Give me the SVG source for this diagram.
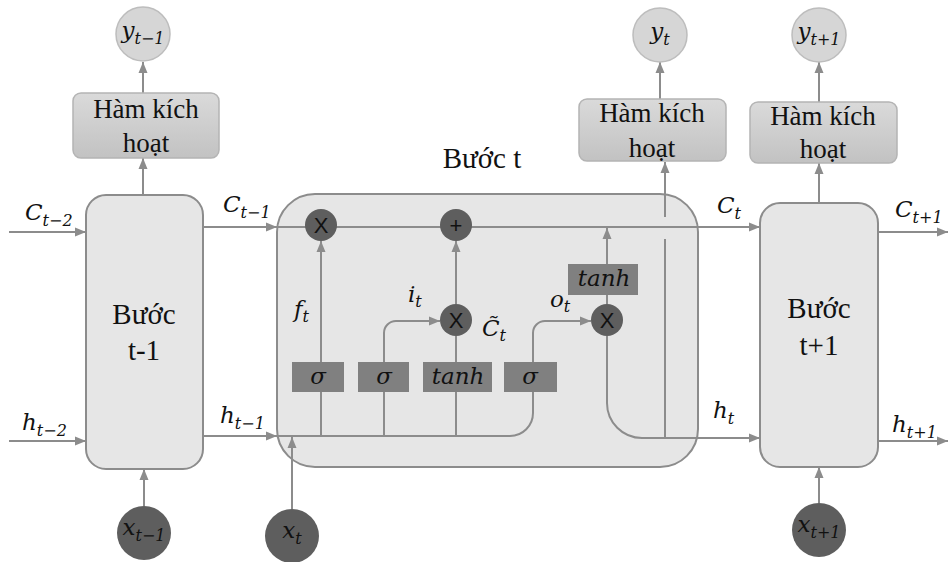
<svg xmlns="http://www.w3.org/2000/svg" width="948" height="562" viewBox="0 0 948 562">
<defs>
<marker id="arr" markerUnits="userSpaceOnUse" markerWidth="12" markerHeight="10" refX="11" refY="5" orient="auto">
<path d="M0,0.5 L11,5 L0,9.5 z" fill="#8c8c8c"/>
</marker>
<linearGradient id="gAct" x1="0" y1="0" x2="0" y2="1">
<stop offset="0" stop-color="#dadada"/>
<stop offset="1" stop-color="#c2c2c2"/>
</linearGradient>
<style>
.cell{fill:#e6e6e6;stroke:#8c8c8c;stroke-width:2}
.act{fill:url(#gAct);stroke:#b4b4b4;stroke-width:1.5}
.out{fill:#d6d6d6;stroke:#bdbdbd;stroke-width:1.5}
.inp{fill:#5e5e5e}
.op{fill:#5e5e5e}
.gate{fill:#808080}
.ln{fill:none;stroke:#8c8c8c;stroke-width:2}
.ar{marker-end:url(#arr)}
.tm{font-family:"Liberation Serif","Times New Roman",serif;fill:#111;text-anchor:middle}
.m{font-family:"DejaVu Serif",serif;font-style:italic;fill:#111;font-size:23px}
.s{font-size:16px}
.opt{font-family:"Liberation Sans",Arial,sans-serif;fill:#111;font-size:22px;text-anchor:middle}
</style>
</defs>

<g id="cell-t">
<rect class="cell" x="277" y="194" width="421" height="273" rx="38"/>
<text class="tm" x="482" y="168" font-size="29">Bước t</text>
</g>

<g id="connectors">
<path class="ln ar" d="M9,232 H86"/>
<path class="ln ar" d="M9,441 H86"/>
<path class="ln ar" d="M143,195 V158"/>
<path class="ln ar" d="M143,93 V62"/>
<path class="ln ar" d="M144,506 V469"/>
<path class="ln ar" d="M203,227 H277"/>
<path class="ln ar" d="M203,436 H277"/>
<path class="ln ar" d="M292,509 V437"/>
<path class="ln ar" d="M277,227 H760"/>
<path class="ln" d="M277,436 H510 A23,23 0 0 0 533,413 V392"/>
<path class="ln" d="M321,436 V392"/>
<path class="ln" d="M384,436 V392"/>
<path class="ln" d="M456,436 V392"/>
<path class="ln ar" d="M321,362 V241"/>
<path class="ln ar" d="M384,362 V333 A12,12 0 0 1 396,321 H440"/>
<path class="ln" d="M456,362 V336"/>
<path class="ln ar" d="M456,304 V241"/>
<path class="ln ar" d="M533,362 V333 A12,12 0 0 1 545,321 H591"/>
<path class="ln" d="M607,304 V295"/>
<path class="ln ar" d="M607,264 V228"/>
<path class="ln ar" d="M607,336 V403 A35,35 0 0 0 642,438 H760"/>
<path class="ln" d="M665,438 V239"/>
<path class="ln ar" d="M665,217 V162"/>
<path class="ln ar" d="M660,99 V62"/>
<path class="ln ar" d="M819,203 V163"/>
<path class="ln ar" d="M819,102 V62"/>
<path class="ln ar" d="M819,503 V467"/>
<path class="ln ar" d="M878,232 H948"/>
<path class="ln ar" d="M878,441 H948"/>
</g>

<g id="cell-t-1">
<rect class="cell" x="86" y="195" width="117" height="274" rx="20"/>
<text class="tm" x="144" y="324" font-size="29">Bước</text>
<text class="tm" x="144" y="360" font-size="29">t-1</text>
</g>
<g id="cell-t+1">
<rect class="cell" x="760" y="203" width="118" height="264" rx="20"/>
<text class="tm" x="819" y="318" font-size="29">Bước</text>
<text class="tm" x="819" y="355" font-size="29">t+1</text>
</g>

<g id="act-t-1">
<rect class="act" x="73" y="93" width="146" height="65" rx="8"/>
<text class="tm" x="146" y="118" font-size="27">Hàm kích</text>
<text class="tm" x="146" y="152" font-size="27">hoạt</text>
</g>
<g id="act-t">
<rect class="act" x="579" y="99" width="147" height="62" rx="8"/>
<text class="tm" x="652" y="122" font-size="27">Hàm kích</text>
<text class="tm" x="652" y="157" font-size="27">hoạt</text>
</g>
<g id="act-t+1">
<rect class="act" x="750" y="102" width="147" height="61" rx="8"/>
<text class="tm" x="823" y="125" font-size="27">Hàm kích</text>
<text class="tm" x="823" y="158" font-size="27">hoạt</text>
</g>

<g id="y-t-1">
<circle class="out" cx="143" cy="34" r="27"/>
<text class="m" x="143" y="38" text-anchor="middle">y<tspan class="s" dy="6">t−1</tspan></text>
</g>
<g id="y-t">
<circle class="out" cx="660" cy="35" r="27"/>
<text class="m" x="660" y="39" text-anchor="middle">y<tspan class="s" dy="6">t</tspan></text>
</g>
<g id="y-t+1">
<circle class="out" cx="819" cy="35" r="27"/>
<text class="m" x="819" y="39" text-anchor="middle">y<tspan class="s" dy="6">t+1</tspan></text>
</g>

<g id="x-t-1">
<circle class="inp" cx="144" cy="533" r="27"/>
<text class="m" x="144" y="535" text-anchor="middle">x<tspan class="s" dy="6">t−1</tspan></text>
</g>
<g id="x-t">
<circle class="inp" cx="292" cy="536" r="27"/>
<text class="m" x="292" y="538" text-anchor="middle">x<tspan class="s" dy="6">t</tspan></text>
</g>
<g id="x-t+1">
<circle class="inp" cx="819" cy="530" r="27"/>
<text class="m" x="819" y="532" text-anchor="middle">x<tspan class="s" dy="6">t+1</tspan></text>
</g>

<g id="mul-f">
<circle class="op" cx="321" cy="225" r="16"/>
<text class="opt" x="321" y="233">X</text>
</g>
<g id="add-c">
<circle class="op" cx="456" cy="225" r="16"/>
<text class="opt" x="456" y="233">+</text>
</g>
<g id="mul-i">
<circle class="op" cx="456" cy="320" r="16"/>
<text class="opt" x="456" y="328">X</text>
</g>
<g id="mul-o">
<circle class="op" cx="607" cy="320" r="16"/>
<text class="opt" x="607" y="328">X</text>
</g>

<g id="sig-f">
<rect class="gate" x="292" y="362" width="52" height="30"/>
<text class="m" x="318" y="384" text-anchor="middle">σ</text>
</g>
<g id="sig-i">
<rect class="gate" x="358" y="362" width="51" height="30"/>
<text class="m" x="384" y="384" text-anchor="middle">σ</text>
</g>
<g id="tanh-c">
<rect class="gate" x="423" y="362" width="69" height="30"/>
<text class="m" x="458" y="384" text-anchor="middle" font-size="21">tanh</text>
</g>
<g id="sig-o">
<rect class="gate" x="504" y="362" width="53" height="30"/>
<text class="m" x="530" y="384" text-anchor="middle">σ</text>
</g>
<g id="tanh-h">
<rect class="gate" x="568" y="264" width="70" height="31"/>
<text class="m" x="604" y="286" text-anchor="middle" font-size="21">tanh</text>
</g>

<g id="labels">
<text class="m" x="25" y="220">C<tspan class="s" dy="6">t−2</tspan></text>
<text class="m" x="223" y="212">C<tspan class="s" dy="6">t−1</tspan></text>
<text class="m" x="22" y="430">h<tspan class="s" dy="6">t−2</tspan></text>
<text class="m" x="220" y="423">h<tspan class="s" dy="6">t−1</tspan></text>
<text class="m" x="717" y="213">C<tspan class="s" dy="6">t</tspan></text>
<text class="m" x="713" y="418">h<tspan class="s" dy="6">t</tspan></text>
<text class="m" x="895" y="217">C<tspan class="s" dy="6">t+1</tspan></text>
<text class="m" x="892" y="432">h<tspan class="s" dy="6">t+1</tspan></text>
<text class="m" x="294" y="317" font-size="19">f<tspan class="s" dy="5">t</tspan></text>
<text class="m" x="408" y="302" font-size="19">i<tspan class="s" dy="5">t</tspan></text>
<text class="m" x="482" y="336" font-size="19">C̃<tspan class="s" dy="5">t</tspan></text>
<text class="m" x="550" y="307" font-size="19">o<tspan class="s" dy="5">t</tspan></text>
</g>
</svg>
